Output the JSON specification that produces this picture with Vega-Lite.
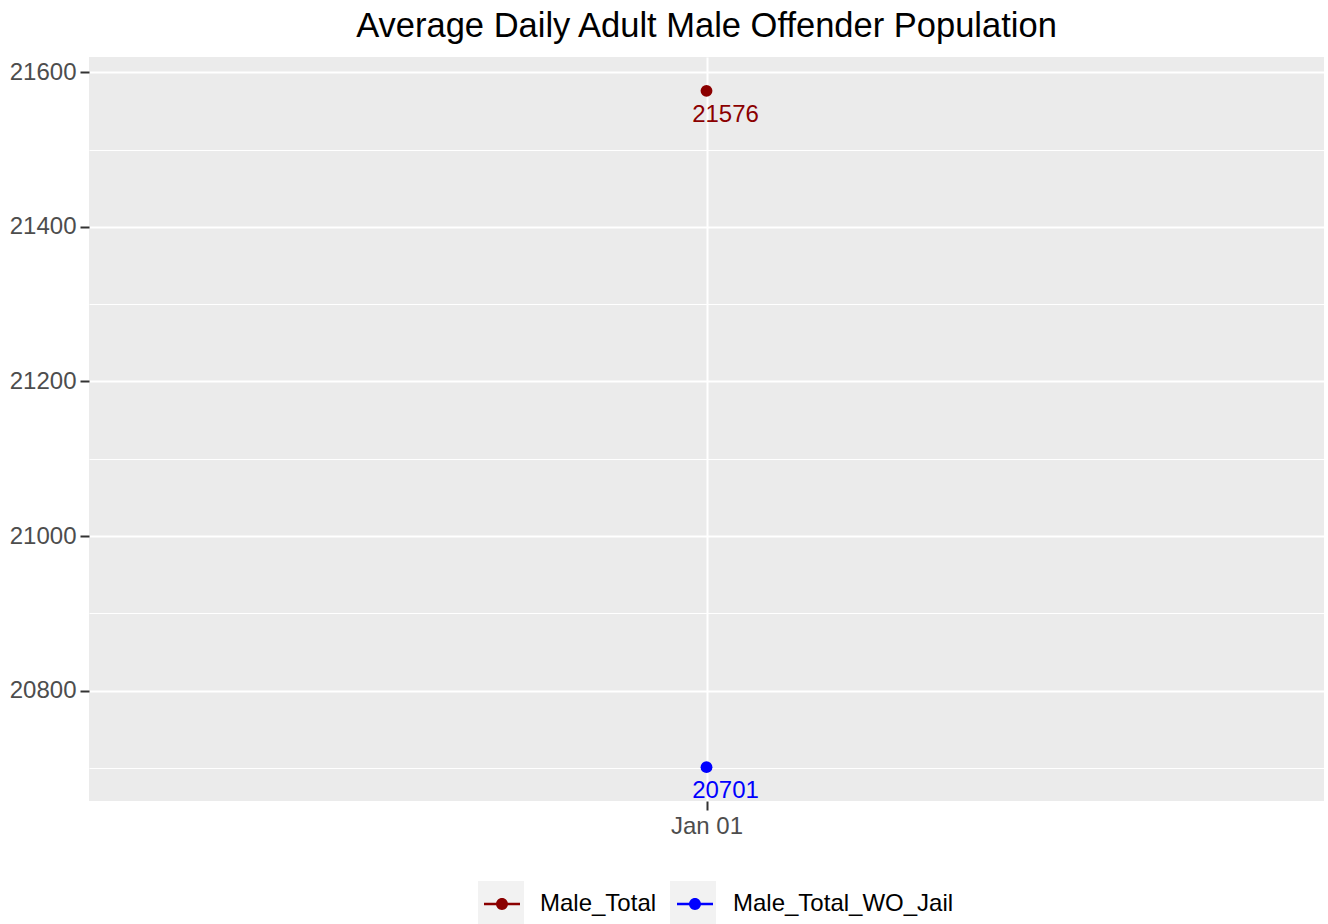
{
  "$schema": "https://vega.github.io/schema/vega-lite/v6.json",
  "autosize": {"type": "none"},
  "width": 1235,
  "height": 744,
  "padding": {"left": 89, "top": 57, "right": 4, "bottom": 123},
  "background": "white",
  "title": {
    "text": "Average Daily Adult Male Offender Population",
    "font": "Liberation Sans",
    "fontSize": 34.5,
    "fontWeight": "normal",
    "color": "black",
    "anchor": "middle",
    "offset": 13
  },
  "config": {
    "view": {"fill": "#EBEBEB", "stroke": null},
    "font": "Liberation Sans"
  },
  "data": {
    "values": [
      {"date": "2020-01-01", "series": "Male_Total", "key": "k1", "value": 21576},
      {"date": "2020-01-01", "series": "Male_Total_WO_Jail", "key": "k2", "value": 20701}
    ]
  },
  "encoding": {
    "x": {
      "field": "date",
      "type": "temporal",
      "scale": {
        "type": "utc",
        "domain": [
          {"year": 2019, "month": 12, "date": 31, "utc": true},
          {"year": 2020, "month": 1, "date": 2, "utc": true}
        ]
      },
      "axis": {
        "title": null,
        "values": [{"year": 2020, "month": 1, "date": 1, "utc": true}],
        "labelExpr": "utcFormat(datum.value, '%b %d')",
        "domain": false,
        "grid": true,
        "gridColor": "white",
        "gridWidth": 2,
        "tickColor": "#333333",
        "tickWidth": 2,
        "tickSize": 9,
        "labelFont": "Liberation Sans",
        "labelFontSize": 24,
        "labelColor": "#4D4D4D",
        "labelPadding": 4
      }
    },
    "y": {
      "field": "value",
      "type": "quantitative",
      "scale": {"domain": [20657.25, 21619.75], "nice": false, "zero": false},
      "axis": {
        "title": null,
        "values": [20700, 20800, 20900, 21000, 21100, 21200, 21300, 21400, 21500, 21600],
        "labelExpr": "datum.value % 200 === 0 ? datum.label : ''",
        "format": "d",
        "domain": false,
        "grid": true,
        "gridColor": "white",
        "gridWidth": {"condition": {"test": "datum.value % 200 === 0", "value": 2}, "value": 1},
        "tickColor": "#333333",
        "tickWidth": 2,
        "tickSize": 9,
        "tickOpacity": {"condition": {"test": "datum.value % 200 === 0", "value": 1}, "value": 0},
        "labelFont": "Liberation Sans",
        "labelFontSize": 24,
        "labelColor": "#4D4D4D",
        "labelPadding": 4
      }
    }
  },
  "layer": [
    {
      "mark": {"type": "point", "filled": true, "opacity": 0, "color": "#F2F2F2"},
      "encoding": {
        "size": {
          "field": "key",
          "type": "nominal",
          "scale": {"domain": ["k1", "k2"], "range": [2116, 2116]},
          "legend": {
            "title": null,
            "orient": "none",
            "direction": "horizontal",
            "legendX": 389,
            "legendY": 824,
            "zindex": 1,
            "symbolType": "square",
            "symbolStrokeWidth": 0,
            "symbolFillColor": "#F2F2F2",
            "symbolOpacity": 1,
            "labelExpr": "''",
            "labelFontSize": 24,
            "labelOffset": 0,
            "columnPadding": 146
          }
        }
      }
    },
    {
      "mark": {"type": "line", "strokeWidth": 2.5},
      "encoding": {
        "color": {
          "field": "series",
          "type": "nominal",
          "scale": {"domain": ["Male_Total", "Male_Total_WO_Jail"], "range": ["#8B0000", "#0000FF"]},
          "legend": {
            "title": null,
            "orient": "none",
            "direction": "horizontal",
            "legendX": 395,
            "legendY": 829,
            "zindex": 2,
            "symbolType": "M-1,-0.07H1V0.07H-1Z M0.333,0 A0.333,0.333 0 1,1 -0.333,0 A0.333,0.333 0 1,1 0.333,0Z",
            "symbolSize": 1296,
            "symbolStrokeWidth": 0,
            "symbolOpacity": 1,
            "labelFont": "Liberation Sans",
            "labelFontSize": 24,
            "labelColor": "black",
            "labelOffset": 20,
            "labelLimit": 500,
            "columnPadding": 20
          }
        }
      }
    },
    {
      "mark": {"type": "point", "filled": true, "size": 140, "opacity": 1},
      "encoding": {"color": {"field": "series", "type": "nominal"}}
    },
    {
      "mark": {"type": "text", "dx": 19, "dy": 24, "fontSize": 24, "font": "Liberation Sans", "baseline": "middle"},
      "encoding": {
        "text": {"field": "value", "type": "quantitative", "format": "d"},
        "color": {"field": "series", "type": "nominal"}
      }
    }
  ]
}
